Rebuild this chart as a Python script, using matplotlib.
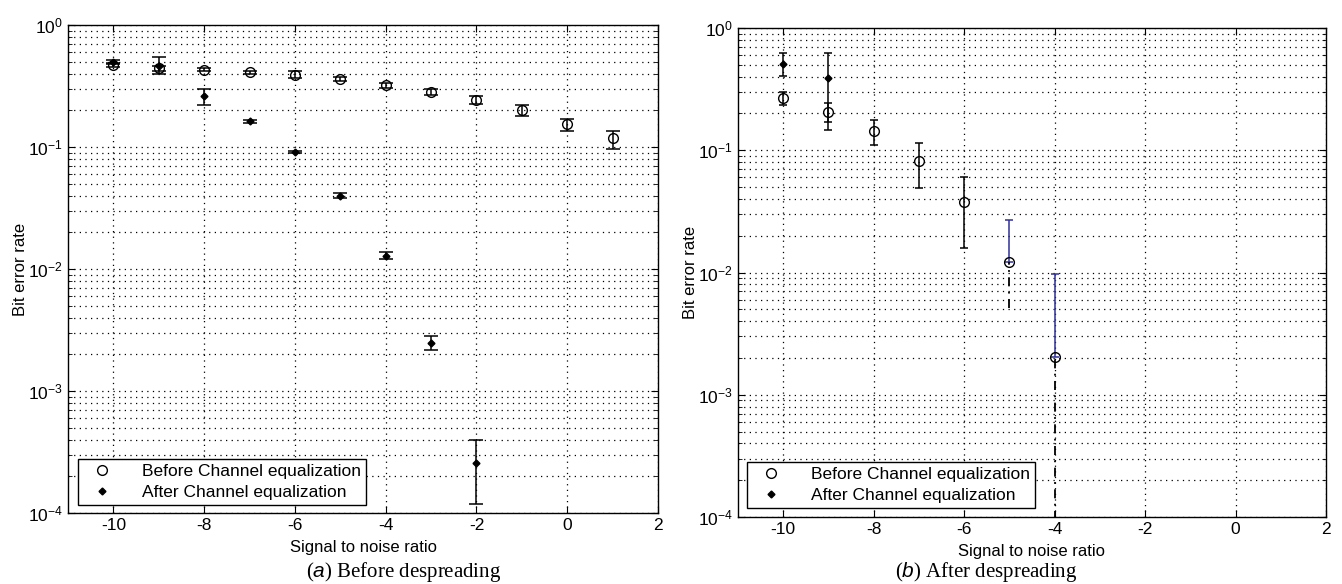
import numpy as np
import matplotlib
matplotlib.use('Agg')
import matplotlib.pyplot as plt

plt.rcParams['font.family'] = ['Liberation Sans', 'DejaVu Sans']
plt.rcParams['mathtext.fontset'] = 'custom'
plt.rcParams['mathtext.rm'] = 'Liberation Sans'
plt.rcParams['mathtext.it'] = 'Liberation Sans:italic'
plt.rcParams['axes.unicode_minus'] = False

# (a) before despreading
snr_a_before = [-10, -9, -8, -7, -6, -5, -4, -3, -2, -1, 0, 1]
ber_a_before = [0.47, 0.44, 0.43, 0.41, 0.39, 0.36, 0.32, 0.28, 0.243, 0.20, 0.155, 0.118]
ber_a_before_lo = [0.45, 0.42, 0.42, 0.40, 0.37, 0.345, 0.305, 0.265, 0.225, 0.18, 0.135, 0.096]
ber_a_before_hi = [0.49, 0.46, 0.44, 0.42, 0.42, 0.375, 0.335, 0.30, 0.26, 0.22, 0.17, 0.136]

snr_a_after = [-10, -9, -8, -7, -6, -5, -4, -3, -2]
ber_a_after = [0.50, 0.46, 0.26, 0.163, 0.091, 0.040, 0.0129, 0.00249, 0.000255]
ber_a_after_lo = [0.48, 0.40, 0.22, 0.158, 0.089, 0.038, 0.0121, 0.00217, 0.000119]
ber_a_after_hi = [0.52, 0.55, 0.30, 0.168, 0.093, 0.042, 0.0137, 0.00284, 0.000394]

# (b) after despreading
snr_b_before = [-10, -9, -8, -7, -6, -5, -4]
ber_b_before = [0.266, 0.207, 0.144, 0.082, 0.0375, 0.0123, 0.00205]
ber_b_before_lo = [0.234, 0.171, 0.111, 0.049, 0.0160, 0.0051, 0.00001]
ber_b_before_hi = [0.301, 0.245, 0.177, 0.114, 0.060, 0.0269, 0.0098]
# points whose lower bar is drawn broken (dashed)
b_dashed_lower = [False, False, False, False, False, True, True]

snr_b_after = [-10, -9]
ber_b_after = [0.508, 0.392]
ber_b_after_lo = [0.407, 0.146]
ber_b_after_hi = [0.621, 0.621]

labels = ['Before Channel equalization', 'After Channel equalization']

W, H = 1342, 584
fig = plt.figure(figsize=(W / 100, H / 100), dpi=100)
dots = (0, (1, 3.5))


def px_axes(l, t, r, b):
    return fig.add_axes([l / W, 1 - b / H, (r - l) / W, (b - t) / H])


def style(ax):
    ax.set_yscale('log')
    ax.set_ylim(1e-4, 1)
    ax.set_xlim(-11, 2)
    ax.set_xticks(range(-10, 3, 2))
    ax.grid(True, which='major', axis='both', linestyle=dots, color='black', linewidth=0.9)
    ax.grid(True, which='minor', axis='y', linestyle=dots, color='black', linewidth=0.9)
    ax.tick_params(which='both', direction='in', top=True, right=True, labelsize=12.5)
    ax.tick_params(which='major', length=5)
    ax.tick_params(which='minor', length=3)
    ax.set_ylabel('Bit error rate', fontsize=12, labelpad=0)
    ax.set_xlabel('Signal to noise ratio', fontsize=12, labelpad=5)
    for s in ax.spines.values():
        s.set_linewidth(1.0)


def errs(y, lo, hi):
    y = np.array(y)
    return [y - np.array(lo), np.array(hi) - y]


def add_legend(ax, x0, y0):
    leg = ax.legend(loc='lower left', bbox_to_anchor=(x0 / W, 1 - y0 / H), bbox_transform=fig.transFigure,
                    borderaxespad=0, fontsize=12.5, fancybox=False, edgecolor='black', framealpha=1,
                    handlelength=2.2, handletextpad=1.2, borderpad=0.3, labelspacing=0.3)
    leg.get_frame().set_linewidth(1.0)


# ---- panel (a)
ax1 = px_axes(68, 25, 658, 513)
style(ax1)
ax1.errorbar(snr_a_before, ber_a_before, yerr=errs(ber_a_before, ber_a_before_lo, ber_a_before_hi),
             fmt='none', ecolor='black', elinewidth=1.1, capsize=5, capthick=1.1)
ax1.errorbar(snr_a_after, ber_a_after, yerr=errs(ber_a_after, ber_a_after_lo, ber_a_after_hi),
             fmt='none', ecolor='black', elinewidth=1.1, capsize=5, capthick=1.1)
ax1.plot(snr_a_before, ber_a_before, 'o', mfc='none', mec='black', ms=7, mew=1.0, label=labels[0])
ax1.plot(snr_a_after, ber_a_after, 'D', color='black', ms=3.5, label=labels[1])
add_legend(ax1, 78, 505)

# ---- panel (b)
ax2 = px_axes(738, 28, 1326, 517)
style(ax2)
x_b = np.array(snr_b_before)
y_b = np.array(ber_b_before)
lo_b = np.array(ber_b_before_lo)
hi_b = np.array(ber_b_before_hi)
dash = np.array(b_dashed_lower)
solid = ~dash
ax2.errorbar(x_b[solid], y_b[solid], yerr=errs(y_b[solid], lo_b[solid], hi_b[solid]),
             fmt='none', ecolor='black', elinewidth=1.1, capsize=3, capthick=1.1)
# broken points: blue upper bar, dashed lower bar
ax2.errorbar(x_b[dash], y_b[dash], yerr=[np.zeros(dash.sum()), hi_b[dash] - y_b[dash]],
             fmt='none', ecolor='#30309a', elinewidth=1.1, capsize=3, capthick=1.1)
ax2.vlines(x_b[dash], lo_b[dash], y_b[dash], colors='black', linestyles=(0, (5, 3, 1, 3)), linewidth=1.3)
ax2.errorbar(snr_b_after, ber_b_after, yerr=errs(ber_b_after, ber_b_after_lo, ber_b_after_hi),
             fmt='none', ecolor='black', elinewidth=1.1, capsize=3, capthick=1.1)
ax2.plot(snr_b_before, ber_b_before, 'o', mfc='none', mec='black', ms=7, mew=1.0, label=labels[0])
ax2.plot(snr_b_after, ber_b_after, 'D', color='black', ms=3.5, label=labels[1])
add_legend(ax2, 747, 508)

# captions
fig.text(404 / W, 1 - 572 / H, '(' + r'$\it{a}$' + ') Before despreading', ha='center', va='center',
         fontsize=15, family='Liberation Serif')
fig.text(986 / W, 1 - 572 / H, '(' + r'$\it{b}$' + ') After despreading', ha='center', va='center',
         fontsize=15, family='Liberation Serif')

fig.savefig('out.png', dpi=100, facecolor='white')
